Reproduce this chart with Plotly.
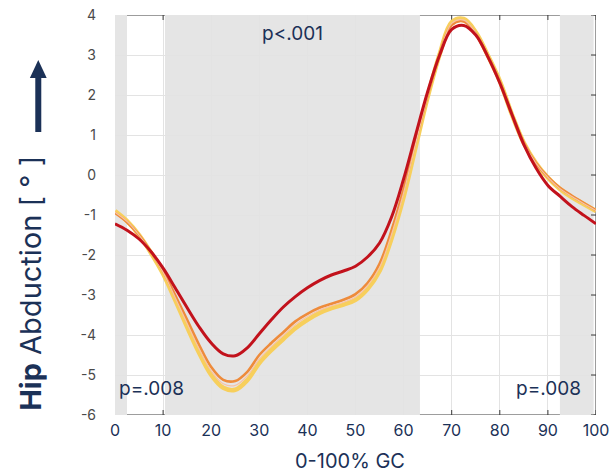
import plotly.graph_objects as go

# Gait cycle (% GC) sample points, every 2.5 %
gait_pct = [0, 2.5, 5, 7.5, 10, 12.5, 15, 17.5, 20, 22.5, 25, 27.5, 30, 32.5, 35,
            37.5, 40, 42.5, 45, 47.5, 50, 52.5, 55, 57.5, 60, 62.5, 65, 67.5, 70,
            72.5, 75, 77.5, 80, 82.5, 85, 87.5, 90, 92.5, 95, 97.5, 100]

# Mean hip abduction angle per condition [deg]
hip_red = [-1.22, -1.38, -1.6, -1.92, -2.33, -2.82, -3.32, -3.8, -4.2, -4.47, -4.52,
           -4.32, -3.97, -3.62, -3.3, -3.04, -2.82, -2.64, -2.5, -2.4, -2.28, -2.05,
           -1.7, -1.05, -0.1, 1.0, 2.08, 3.0, 3.64, 3.74, 3.5, 2.96, 2.3, 1.52,
           0.76, 0.18, -0.26, -0.53, -0.79, -1.01, -1.22]
hip_orange = [-0.95, -1.18, -1.5, -1.92, -2.4, -3.0, -3.62, -4.25, -4.8, -5.12, -5.15,
              -4.92, -4.5, -4.2, -3.93, -3.66, -3.47, -3.32, -3.22, -3.12, -2.98, -2.7,
              -2.22, -1.38, -0.35, 0.85, 2.0, 3.02, 3.75, 3.84, 3.53, 2.97, 2.33, 1.52,
              0.8, 0.3, -0.05, -0.32, -0.52, -0.7, -0.88]
hip_peach = [-0.93, -1.16, -1.5, -1.93, -2.43, -3.06, -3.71, -4.35, -4.9, -5.22, -5.26,
             -5.02, -4.6, -4.29, -4.01, -3.74, -3.54, -3.38, -3.27, -3.18, -3.05, -2.77,
             -2.31, -1.48, -0.45, 0.78, 1.98, 3.02, 3.79, 3.87, 3.55, 2.98, 2.34, 1.52,
             0.8, 0.3, -0.06, -0.34, -0.54, -0.72, -0.89]
hip_yellow = [-0.9, -1.15, -1.5, -1.95, -2.47, -3.12, -3.8, -4.45, -5.0, -5.32, -5.37,
              -5.13, -4.7, -4.38, -4.1, -3.83, -3.62, -3.45, -3.33, -3.24, -3.12, -2.85,
              -2.4, -1.58, -0.55, 0.7, 1.95, 3.02, 3.82, 3.9, 3.57, 2.99, 2.35, 1.52,
              0.8, 0.3, -0.07, -0.35, -0.56, -0.73, -0.9]

# SPM significant clusters (% GC) and their p-values
sig_start = [0, 10.4, 92.5]
sig_end = [2.5, 63.4, 99.5]
sig_labels = ["p=.008", "p<.001", "p=.008"]

x_ticks = [0, 10, 20, 30, 40, 50, 60, 70, 80, 90, 100]
y_ticks = [4, 3, 2, 1, 0, -1, -2, -3, -4, -5, -6]
y_ticktext = ["4", "3", "2", "1", "0", "-1", "-2", "-3", "-4", "-5", "-6"]

NAVY = "#1b3157"
FRAME = "#3a3a3a"
SHADE = "#e5e5e5"

fig = go.Figure()

series = [
    (hip_yellow, "#f7cf5c", 4.5),
    (hip_orange, "#ee8b3b", 2.6),
    (hip_peach, "#f7c3a6", 1.2),
    (hip_red, "#c2121c", 3.0),
]
for vals, col, w in series:
    fig.add_trace(go.Scatter(
        x=gait_pct, y=vals, mode="lines",
        line=dict(color=col, width=w, shape="spline", smoothing=1.0),
        showlegend=False, hoverinfo="skip",
    ))

shapes = []
# shaded significant regions, above the grid but under the curves
for s, e in zip(sig_start, sig_end):
    shapes.append(dict(type="rect", xref="x", yref="paper", x0=s, x1=e, y0=0, y1=1,
                       fillcolor=SHADE, line=dict(width=0), layer="between"))

# frame segments and ticks only where the background is not shaded
x_min, x_max = x_ticks[0], x_ticks[-1]
y_min, y_max = y_ticks[-1], y_ticks[0]
bounds = sorted(zip(sig_start, sig_end))
gaps = []
cur = x_min
for s, e in bounds:
    if s > cur:
        gaps.append((cur, s))
    cur = max(cur, e)
if cur < x_max:
    gaps.append((cur, x_max))

frame_line = dict(color=FRAME, width=1)
for a, b in gaps:
    for yv in (y_min, y_max):
        shapes.append(dict(type="line", xref="x", yref="y", x0=a, x1=b, y0=yv, y1=yv,
                           line=frame_line, layer="between"))
    for t in x_ticks:
        if a <= t <= b:
            shapes.append(dict(type="line", xref="x", yref="y", ysizemode="pixel",
                               yanchor=y_min, x0=t, x1=t, y0=0, y1=5,
                               line=frame_line, layer="between"))
            shapes.append(dict(type="line", xref="x", yref="y", ysizemode="pixel",
                               yanchor=y_max, x0=t, x1=t, y0=0, y1=-5,
                               line=frame_line, layer="between"))

# right-hand frame edge with inward ticks
shapes.append(dict(type="line", xref="x", yref="y", x0=x_max, x1=x_max, y0=y_min, y1=y_max,
                   line=frame_line, layer="between"))
for t in y_ticks:
    shapes.append(dict(type="line", xref="x", yref="y", xsizemode="pixel", xanchor=x_max,
                       x0=-5, x1=0, y0=t, y1=t, line=frame_line, layer="between"))

# upward arrow next to the y title
ax = -0.1595
shapes.append(dict(type="line", xref="paper", yref="paper", x0=ax, x1=ax, y0=0.7075, y1=0.85,
                   line=dict(color=NAVY, width=6)))
shapes.append(dict(type="path", xref="paper", yref="paper",
                   path=f"M {ax - 0.0175},0.8425 L {ax + 0.0175},0.8425 L {ax},0.8875 Z",
                   fillcolor=NAVY, line=dict(color=NAVY, width=0)))

annotations = [
    dict(text=sig_labels[1], x=(sig_start[1] + sig_end[1]) / 2, y=3.55, xref="x", yref="y",
         showarrow=False, font=dict(size=19, color=NAVY), xanchor="center", yanchor="middle"),
    dict(text=sig_labels[0], x=0.4, y=-5.33, xref="x", yref="y",
         showarrow=False, font=dict(size=19, color=NAVY), xanchor="left", yanchor="middle"),
    dict(text=sig_labels[2], x=97.4, y=-5.33, xref="x", yref="y",
         showarrow=False, font=dict(size=19, color=NAVY), xanchor="right", yanchor="middle"),
    dict(text="<b>Hip</b> Abduction [ ° ]", x=-0.177, y=0.33, xref="paper", yref="paper",
         textangle=-90, showarrow=False, font=dict(size=29, color=NAVY),
         xanchor="center", yanchor="middle"),
    dict(text="0-100% GC", x=0.4886, y=-0.115, xref="paper", yref="paper",
         showarrow=False, font=dict(size=20, color=NAVY), xanchor="center", yanchor="middle"),
]

fig.update_layout(
    width=613, height=475,
    margin=dict(l=115, r=17, t=15, b=60, autoexpand=False),
    paper_bgcolor="white", plot_bgcolor="white",
    font=dict(family="Inter, Roboto, sans-serif"),
    shapes=shapes, annotations=annotations,
    xaxis=dict(range=[x_min, x_max], tickvals=x_ticks, showline=False, zeroline=False,
               showgrid=True, gridcolor="#e3e3e3", gridwidth=1, ticks="", automargin=False,
               tickfont=dict(size=16, color=NAVY), ticklabelstandoff=4),
    yaxis=dict(range=[y_min, y_max], tickvals=y_ticks, ticktext=y_ticktext, showline=False,
               zeroline=False, showgrid=True, gridcolor="#e3e3e3", gridwidth=1, ticks="",
               automargin=False, tickfont=dict(size=14, color="#4a4a4a"),
               ticklabelstandoff=18),
)

fig.write_html("out.html")
